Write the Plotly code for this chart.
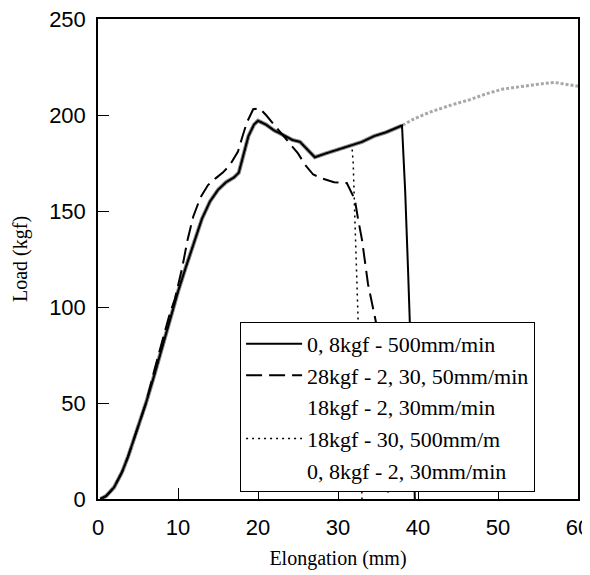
import plotly.graph_objects as go

# common loading curve
main_x = [0.3, 1, 2, 3, 3.75, 4.5, 5.2, 6, 7, 8, 9, 10, 11, 12, 13, 14, 15, 16, 17, 17.6,
          18.2, 18.8, 19.5, 20, 21, 22, 23.2, 24.3, 25.25, 26.2, 27.1, 28.5, 30, 31.5, 33,
          34.5, 36, 38]
main_y = [0, 1.5, 6, 14, 22, 31, 40, 50, 64, 79, 94, 108, 121, 134, 146, 155, 161, 165, 167.5, 170,
          180, 189, 195, 197, 195, 192, 189.5, 187, 186, 182, 178, 180, 182, 184, 186,
          189, 191, 194.5]

# continuation of the long test to 60 mm
tail_x = [39.5, 41.5, 44, 46.5, 48.5, 50.6, 53, 55, 57, 58.5, 60]
tail_y = [198, 201.5, 205, 208, 211, 213.5, 215, 216, 217, 216, 215]

# failure drops
solid_drop_x = [38.4, 38.75, 39, 39.4, 39.6]
solid_drop_y = [160, 120, 92, 40, 0]

dotted_cut = 34  # index in main arrays where the dotted curve leaves (x = 31.5)
dotted_drop_x = [31.75, 31.9, 32.1, 32.5, 32.8, 33]
dotted_drop_y = [183, 175, 147, 95, 40, 0]

dash_x = [0.3, 1, 2, 3, 3.75, 4.5, 5.2, 6, 7.1, 8, 9, 9.6, 10.5, 11.2, 11.9, 12.8, 13.75, 14.7,
          15.6, 16.5, 17.5, 18, 18.6, 19.4, 20.2, 21, 22, 23, 24, 25, 25.9, 26.9, 28, 29.5,
          31.1, 32.1, 32.5, 33, 33.75, 34.75, 35.5, 36, 36.3]
dash_y = [0, 1.5, 6, 14, 22, 31, 40, 50, 68, 82, 97, 104, 120, 135, 147, 157, 163.5, 167,
          170, 174, 181, 188, 196, 203, 203.5, 200, 195, 190, 185, 180, 174, 169, 167, 165,
          164.6, 156, 146, 135, 112, 92, 60, 30, 0]

names = ["0, 8kgf - 500mm/min", "28kgf - 2, 30, 50mm/min", "18kgf - 2, 30mm/min",
         "18kgf - 30, 500mm/m", "0, 8kgf - 2, 30mm/min"]

serif = "Liberation Serif, Times New Roman, serif"
sans = "Liberation Sans, Arial, sans-serif"

fig = go.Figure()

# grey curves (their legend keys are blank in the original)
fig.add_trace(go.Scatter(x=main_x + tail_x, y=main_y + tail_y, mode="lines", showlegend=False,
                         line=dict(color="#a8a8a8", width=3, dash="3px,2px"), name=names[2]))
fig.add_trace(go.Scatter(x=main_x, y=main_y, mode="lines", showlegend=False,
                         line=dict(color="#8c8c8c", width=4), name=names[4]))

fig.add_trace(go.Scatter(x=main_x + solid_drop_x, y=main_y + solid_drop_y, mode="lines",
                         name=names[0], line=dict(color="black", width=2), legendrank=1))
fig.add_trace(go.Scatter(x=dash_x, y=dash_y, mode="lines", name=names[1],
                         line=dict(color="black", width=2, dash="16px,7px"), legendrank=2))
fig.add_trace(go.Scatter(x=[None], y=[None], mode="lines", name=names[2],
                         line=dict(color="rgba(0,0,0,0)", width=1), legendrank=3))
fig.add_trace(go.Scatter(x=main_x[:dotted_cut] + dotted_drop_x, y=main_y[:dotted_cut] + dotted_drop_y,
                         mode="lines", name=names[3],
                         line=dict(color="black", width=1.5, dash="2px,4px"), legendrank=4))
fig.add_trace(go.Scatter(x=[None], y=[None], mode="lines", name=names[4],
                         line=dict(color="rgba(0,0,0,0)", width=1), legendrank=5))

axis_common = dict(showgrid=False, zeroline=False, showline=True, linecolor="black", linewidth=1.5,
                   mirror=True, ticks="inside", ticklen=11, tickwidth=1, tickcolor="black",
                   automargin=False, ticklabeloverflow="allow",
                   tickfont=dict(family=sans, size=22, color="black"))

# the page body shifts the figure by 8px, margins account for that
fig.update_layout(
    width=590, height=575,
    margin=dict(l=90, r=20, t=11, b=84),
    paper_bgcolor="white", plot_bgcolor="white",
    xaxis=dict(range=[0, 60], tickvals=[0, 10, 20, 30, 40, 50, 60], ticklabelstandoff=8,
               title=dict(text="Elongation (mm)", font=dict(family=serif, size=20, color="black"), standoff=12),
               **axis_common),
    yaxis=dict(range=[0, 250], tickvals=[0, 50, 100, 150, 200, 250], ticklabelstandoff=6,
               title=dict(text="Load (kgf)", font=dict(family=serif, size=20, color="black"), standoff=16),
               **axis_common),
    legend=dict(x=0.296, y=0.369, xanchor="left", yanchor="top", bgcolor="white",
                bordercolor="black", borderwidth=1, font=dict(family=serif, size=22, color="black"),
                traceorder="normal", itemwidth=56),
)

fig.write_html("out.html")
